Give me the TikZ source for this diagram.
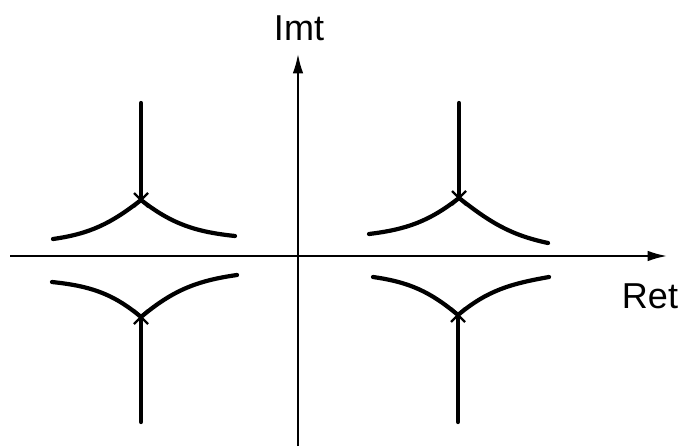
\documentclass[tikz,border=0pt]{standalone}
\usepackage{fontspec}
\setmainfont{Liberation Sans}
\usetikzlibrary{arrows.meta}
\begin{document}
\begin{tikzpicture}[x=0.02cm,y=-0.02cm,
  axis/.style={line width=1.1pt,-{Latex[length=11pt,width=6pt]}},
  branch/.style={line width=2.4pt,line cap=round},
  xmark/.style={line width=1.3pt},
  lbl/.style={font=\fontsize{20.5}{24}\selectfont,inner sep=0pt}]
\useasboundingbox (0,0) rectangle (678,446);
% axes
\coordinate (xs) at (10,256);
\coordinate (xe) at (667,256);
\coordinate (ys) at (298,446);
\coordinate (ye) at (298,54);
\draw[axis] (xs) -- (xe);
\draw[axis] (ys) -- (ye);
\node[lbl] (imt) at (299,28) {Imt};
\node[lbl] (ret) at (650,296) {Ret};
% upper left
\coordinate (ulc) at (141,200);
\coordinate (ult) at (141,103);
\coordinate (ull) at (53,239);
\coordinate (ulr) at (235,236);
\draw[branch] (ult) -- (ulc);
\draw[branch] (ull) to[out=8,in=-142] (ulc);
\draw[branch] (ulc) to[out=-38,in=174] (ulr);
% lower left
\coordinate (llc) at (141,317);
\coordinate (llb) at (141,422);
\coordinate (lll) at (52,282);
\coordinate (llr) at (237,275);
\draw[branch] (llc) -- (llb);
\draw[branch] (lll) to[out=-6,in=140] (llc);
\draw[branch] (llc) to[out=40,in=-172] (llr);
% upper right
\coordinate (urc) at (459,198);
\coordinate (urt) at (459,103);
\coordinate (url) at (369,234);
\coordinate (urr) at (548,243);
\draw[branch] (urt) -- (urc);
\draw[branch] (url) to[out=7,in=-142] (urc);
\draw[branch] (urc) to[out=-38,in=168] (urr);
% lower right
\coordinate (lrc) at (458,315);
\coordinate (lrb) at (458,422);
\coordinate (lrl) at (373,277);
\coordinate (lrr) at (549,277);
\draw[branch] (lrc) -- (lrb);
\draw[branch] (lrl) to[out=-8,in=140] (lrc);
\draw[branch] (lrc) to[out=40,in=-170] (lrr);
% cross marks
\foreach \c in {ulc,llc,urc,lrc}{
  \draw[xmark] ([shift={(-7,-7)}]\c) -- ([shift={(7,7)}]\c);
  \draw[xmark] ([shift={(7,-7)}]\c) -- ([shift={(-7,7)}]\c);
}
\end{tikzpicture}
\end{document}
